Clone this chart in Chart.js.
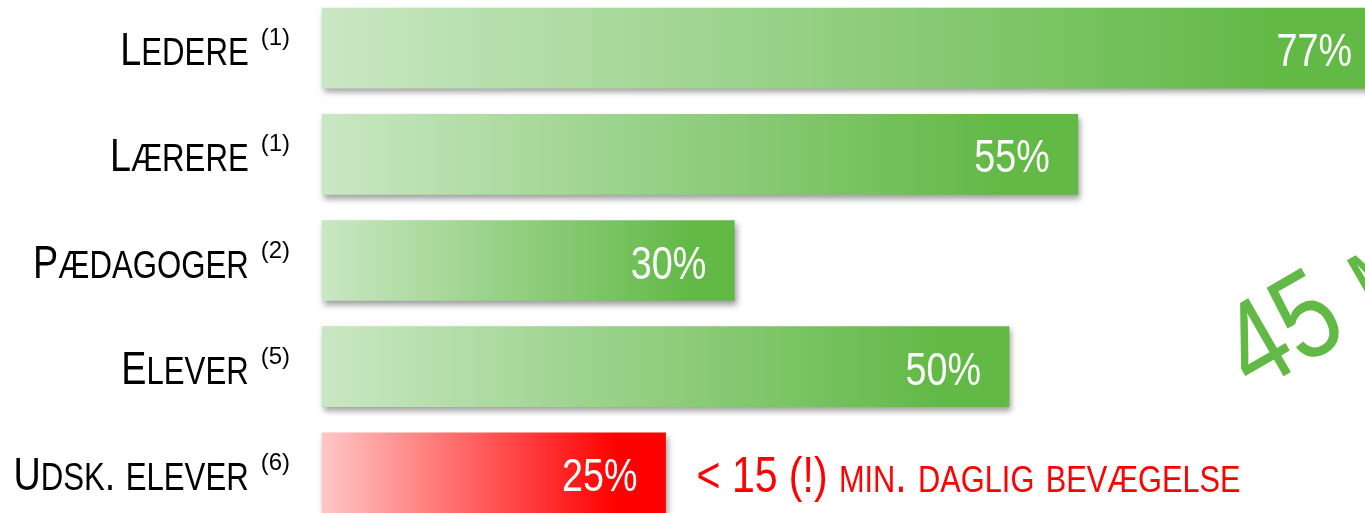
<!DOCTYPE html>
<html><head><meta charset="utf-8">
<script src="https://cdn.jsdelivr.net/npm/chart.js@4.4.1/dist/chart.umd.min.js"></script>
<style>
html,body{margin:0;padding:0;overflow:hidden;background:#fff;width:1365px;height:513px}
#wrap{position:absolute;left:0;top:-5px;width:1365px;height:531px}
</style></head><body>
<div id="wrap"><canvas id="c"></canvas></div>
<script>
const categories = ['Ledere','Lærere','Pædagoger','Elever','Udsk. elever'];
const footnotes = ['(1)','(1)','(2)','(5)','(6)'];
const values = [77,55,30,50,25];
const valueLabels = ['77%','55%','30%','50%','25%'];
const noteText = '< 15 (!) min. daglig bevægelse';
const sideText = '45 min.';
const highlightCategory = 'Udsk. elever';

const FONT = '"Liberation Sans",Arial,sans-serif';
const NARROW = 0.82; // emulate a narrow (condensed) face
const GREEN = '#62B946';

function isLower(ch){ return ch !== ch.toUpperCase() && ch === ch.toLowerCase(); }
function smallCapsRuns(str){
  const runs=[];
  for(const ch of str){
    const sm=isLower(ch);
    const t=sm?ch.toUpperCase():ch;
    if(runs.length && runs[runs.length-1].small===sm) runs[runs.length-1].text+=t;
    else runs.push({text:t,small:sm});
  }
  return runs;
}
function measureRuns(ctx,runs,big,small){
  let w=0;
  for(const r of runs){ ctx.font=(r.small?small:big)+'px '+FONT; w+=ctx.measureText(r.text).width; }
  return w*NARROW;
}
function drawNarrow(ctx,text,x,y,size,align){
  ctx.save();
  ctx.font=size+'px '+FONT;
  ctx.textAlign=align||'left';
  ctx.translate(x,y);
  ctx.scale(NARROW,1);
  ctx.fillText(text,0,0);
  const w=ctx.measureText(text).width*NARROW;
  ctx.restore();
  return w;
}
function drawRuns(ctx,runs,x,y,big,small){
  for(const r of runs){ x+=drawNarrow(ctx,r.text,x,y,r.small?small:big,'left'); }
  return x;
}

const shadowPlugin = {
  id:'shadow',
  beforeDatasetsDraw(chart){ const c=chart.ctx; c.save(); c.shadowColor='rgba(0,0,0,0.38)'; c.shadowBlur=6; c.shadowOffsetX=2; c.shadowOffsetY=4; },
  afterDatasetsDraw(chart){ chart.ctx.restore(); }
};

const textPlugin = {
  id:'texts',
  afterDraw(chart){
    const ctx=chart.ctx, ys=chart.scales.y;
    const meta=chart.getDatasetMeta(0);
    ctx.save();
    ctx.textBaseline='alphabetic';
    // category labels (small caps + superscript footnote)
    categories.forEach((cat,i)=>{
      const y=ys.getPixelForValue(i);
      const runs=smallCapsRuns(cat);
      ctx.font='24px '+FONT;
      const fw=ctx.measureText(footnotes[i]).width;
      const gap=12;
      const w=measureRuns(ctx,runs,46,38)+gap+fw;
      const right=290;
      ctx.fillStyle='#000';
      const xEnd=drawRuns(ctx,runs,right-w,y+17,46,38);
      ctx.font='24px '+FONT;
      ctx.textAlign='left';
      ctx.fillText(footnotes[i],xEnd+gap,y-3);
    });
    // value labels inside bars
    ctx.fillStyle='#fff';
    meta.data.forEach((el,i)=>{
      drawNarrow(ctx,valueLabels[i],el.x-28,el.y+18,46,'right');
    });
    // red note next to highlighted bar
    const hi=categories.indexOf(highlightCategory);
    const hel=meta.data[hi];
    ctx.fillStyle='#FF0000';
    drawRuns(ctx,smallCapsRuns(noteText),hel.x+31,hel.y+19,50,37.5);
    // rotated side text
    ctx.save();
    ctx.translate(1253,399);
    ctx.rotate(-Math.PI/6);
    ctx.fillStyle=GREEN;
    drawRuns(ctx,smallCapsRuns(sideText),0,0,124,100);
    ctx.restore();
    ctx.restore();
  }
};

new Chart(document.getElementById('c'),{
  type:'bar',
  data:{labels:categories,datasets:[{
    data:values,
    barThickness:80,
    borderWidth:0,
    borderSkipped:false,
    clip:false,
    backgroundColor:(c)=>{
      const hi = categories[c.dataIndex]===highlightCategory;
      const endC = hi?'#FF0000':GREEN, startC = hi?'#FFC6C6':'#C9E7C3';
      const ch=c.chart, xs=ch.scales && ch.scales.x;
      if(!xs || c.type!=='data' || !ch.chartArea) return endC;
      const x0=xs.getPixelForValue(0), x1=xs.getPixelForValue(c.raw);
      const g=ch.ctx.createLinearGradient(x0,0,x1,0);
      g.addColorStop(0,startC);
      g.addColorStop(hi?0.86:0.9,endC);
      g.addColorStop(1,endC);
      return g;
    }
  }]},
  options:{
    indexAxis:'y',
    responsive:true,
    maintainAspectRatio:false,
    animation:false,
    layout:{padding:{left:322,right:0,top:0,bottom:0}},
    plugins:{legend:{display:false},tooltip:{enabled:false}},
    scales:{
      x:{display:false,min:0,max:75.9},
      y:{display:false,offset:true}
    }
  },
  plugins:[shadowPlugin,textPlugin]
});
</script>
</body></html>
